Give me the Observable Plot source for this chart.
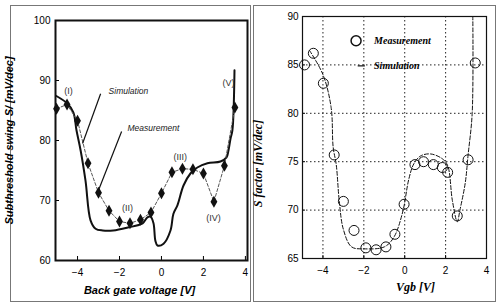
<!DOCTYPE html>
<html><head><meta charset="utf-8">
<script src="https://cdn.jsdelivr.net/npm/d3@7"></script>
<script src="https://cdn.jsdelivr.net/npm/@observablehq/plot@0.6"></script>
<style>
body{margin:0;background:#fff;width:496px;height:303px;overflow:hidden;position:relative;font-family:"Liberation Sans",sans-serif}
#left{position:absolute;left:0;top:0}
#right{position:absolute;left:250px;top:0}
.box{position:absolute;border:1px solid #777}
</style></head><body>
<div class="box" style="left:10px;top:5px;width:239px;height:295px"></div>
<div class="box" style="left:253px;top:5px;width:241px;height:295px"></div>
<div id="left"></div><div id="right"></div>
<script>
// ---- Left panel: Subthreshold swing vs back gate voltage ----
const leftMeasX = [-5, -4.5, -4, -3.5, -3, -2.5, -2, -1.5, -1, -0.5, 0, 0.5, 1, 1.5, 2, 2.5, 3, 3.5];
const leftMeasY = [85.3, 86.0, 83.3, 76.2, 71.3, 68.3, 66.5, 66.2, 66.8, 68.0, 71.2, 74.7, 75.3, 75.2, 74.5, 69.8, 75.8, 85.5];
const leftSimX = [-5.05, -4.5, -4.2, -4.05, -3.85, -3.62, -3.38, -3.14, -2.8, -2.3, -1.6, -0.9, -0.67, -0.52, -0.38, -0.29, -0.19, 0.1, 0.43, 0.57, 0.76, 1.05, 1.38, 1.71, 2.19, 2.81, 3.1, 3.19, 3.29, 3.38, 3.48];
const leftSimY = [87.5, 86.2, 84.7, 81.7, 78.3, 73.3, 66.7, 65.3, 65.0, 65.0, 65.5, 66.2, 67.2, 67.3, 66.2, 63.3, 62.5, 62.8, 65.0, 67.8, 69.2, 72.5, 74.5, 75.5, 76.2, 76.5, 77.2, 78.3, 80.3, 81.7, 91.7];
const leftXTicks = [-4, -2, 0, 2, 4];
const leftYTicks = [60, 70, 80, 90, 100];
const leftRegionLabels = ["(I)", "(II)", "(III)", "(IV)", "(V)"];
const leftRegionX = [-4.43, -1.62, 0.9, 2.48, 3.19];
const leftRegionY = [88.2, 68.8, 77.2, 67.0, 89.5];
const leftCallouts = ["Simulation", "Measurement"];
const leftCalloutX = [-2.52, -1.62];
const leftCalloutY = [88.2, 82.0];
const leftLeaderX1 = [-2.9, -1.9];
const leftLeaderY1 = [87.8, 81.5];
const leftLeaderX2 = [-3.76, -3.0];
const leftLeaderY2 = [79.5, 71.7];

// ---- Right panel: S factor vs Vgb ----
const rightMeasX = [-4.9, -4.47, -3.98, -3.45, -3.0, -2.48, -1.9, -1.4, -0.92, -0.48, -0.03, 0.5, 0.92, 1.4, 1.84, 2.1, 2.57, 3.1, 3.45];
const rightMeasY = [85.0, 86.2, 83.1, 75.7, 70.9, 67.9, 66.1, 65.9, 66.2, 67.5, 70.6, 74.7, 75.0, 74.7, 74.4, 73.9, 69.4, 75.2, 85.2];
const rightSimX = [-4.66, -4.0, -3.6, -3.5, -3.35, -3.2, -3.0, -2.6, -2.0, -1.0, -0.53, -0.1, 0.2, 0.45, 0.78, 1.27, 1.84, 2.1, 2.33, 2.57, 2.7, 2.96, 3.1, 3.3, 3.33];
const rightSimY = [86.5, 84.0, 80.6, 76.5, 74.7, 70.9, 68.0, 66.2, 66.0, 66.2, 67.2, 69.8, 73.2, 74.8, 75.6, 75.8, 75.3, 74.6, 71.0, 68.8, 70.0, 72.8, 75.7, 80.0, 90.0];
const rightXTicks = [-4, -2, 0, 2, 4];
const rightYTicks = [65, 70, 75, 80, 85, 90];
const rightGridX = [-4, -2, 0, 2];
const rightGridY = [70, 75, 80, 85];
const legendLabels = ["Measurement", "Simulation"];

const leftMeas = leftMeasX.map((x, i) => ({x, y: leftMeasY[i]}));
const leftSim = leftSimX.map((x, i) => ({x, y: leftSimY[i]}));
const leftRegions = leftRegionLabels.map((t, i) => ({t, x: leftRegionX[i], y: leftRegionY[i]}));
const leftCall = leftCallouts.map((t, i) => ({t, x: leftCalloutX[i], y: leftCalloutY[i],
  x1: leftLeaderX1[i], y1: leftLeaderY1[i], x2: leftLeaderX2[i], y2: leftLeaderY2[i]}));

const tickFont = {fontFamily: "Liberation Sans, sans-serif", fontSize: 10};
const labelFont = {fontFamily: "Liberation Sans, sans-serif", fontSize: 11, fontWeight: "bold", fontStyle: "italic"};

const left = Plot.plot({
  width: 250, height: 303,
  marginLeft: 55, marginRight: 3, marginTop: 20, marginBottom: 43,
  x: {domain: [-5.05, 4.1]},
  y: {domain: [60, 100]},
  marks: [
    Plot.axisX({ticks: leftXTicks, tickSize: -4, tickPadding: 12, label: null, ...tickFont}),
    Plot.axisY({ticks: leftYTicks, tickSize: -4, tickPadding: 9, label: null, ...tickFont}),
    Plot.line(leftSim, {x: "x", y: "y", stroke: "#111", strokeWidth: 2, curve: "catmull-rom", clip: true}),
    Plot.line(leftMeas, {x: "x", y: "y", stroke: "#555", strokeWidth: 1, strokeDasharray: "3,2"}),
    Plot.dot(leftMeas, {x: "x", y: "y", symbol: "diamond", r: 3.6, fill: "#111", stroke: "none"}),
    Plot.link(leftCall, {x1: "x1", y1: "y1", x2: "x2", y2: "y2", stroke: "#111", strokeWidth: 1.2}),
    Plot.text(leftCall, {x: "x", y: "y", text: "t", textAnchor: "start", fontSize: 8.5, fontStyle: "italic", fontFamily: "Liberation Sans, sans-serif", fill: "#222"}),
    Plot.text(leftRegions, {x: "x", y: "y", text: "t", fontSize: 9, fontFamily: "Liberation Sans, sans-serif", fill: "#333"}),
    Plot.frame({stroke: "#111", strokeWidth: 2}),
    Plot.text(["Subthreshold swing S/ [mV/dec]"], {frameAnchor: "left", textAnchor: "middle", rotate: -90, dx: -46, ...labelFont, letterSpacing: 0.6}),
    Plot.text(["Back gate voltage [V]"], {frameAnchor: "bottom", textAnchor: "middle", dx: -12, dy: 33, ...labelFont})
  ]
});
document.getElementById("left").appendChild(left);

const rightMeas = rightMeasX.map((x, i) => ({x, y: rightMeasY[i]}));
const rightSim = rightSimX.map((x, i) => ({x, y: rightSimY[i]}));
const serifLabel = {fontFamily: "Liberation Serif, serif", fontSize: 11, fontWeight: "bold", fontStyle: "italic"};

const right = Plot.plot({
  width: 246, height: 303,
  marginLeft: 52, marginRight: 10, marginTop: 16, marginBottom: 45,
  x: {domain: [-5, 4]},
  y: {domain: [65, 90]},
  marks: [
    Plot.ruleX(rightGridX, {stroke: "#222", strokeWidth: 1, strokeDasharray: "1.5,2.5"}),
    Plot.ruleY(rightGridY, {stroke: "#222", strokeWidth: 1, strokeDasharray: "1.5,2.5"}),
    Plot.axisX({ticks: rightXTicks, tickSize: -3, tickPadding: 11, label: null, ...tickFont}),
    Plot.axisY({ticks: rightYTicks, tickSize: -3, tickPadding: 7, label: null, ...tickFont}),
    Plot.line(rightSim, {x: "x", y: "y", stroke: "#111", strokeWidth: 1, strokeDasharray: "4,2", curve: "catmull-rom", clip: true}),
    Plot.dot(rightMeas, {x: "x", y: "y", r: 5, stroke: "#111", strokeWidth: 1, fill: "none"}),
    Plot.dot([{x: -2.38, y: 87.5}], {x: "x", y: "y", r: 5, stroke: "#111", fill: "white"}),
    Plot.link([{x1: -2.3, x2: -1.95, y: 84.9}], {x1: "x1", x2: "x2", y1: "y", y2: "y", stroke: "#111", strokeWidth: 1.2}),
    Plot.text([{t: legendLabels[0], x: -1.5, y: 87.5}, {t: legendLabels[1], x: -1.5, y: 84.9}], {x: "x", y: "y", text: "t", textAnchor: "start", ...serifLabel, fontSize: 10}),
    Plot.frame({stroke: "#111", strokeWidth: 1.2}),
    Plot.text(["S factor [mV/dec]"], {frameAnchor: "left", textAnchor: "middle", rotate: -90, dx: -44, dy: 26, ...serifLabel, fontSize: 12}),
    Plot.text(["Vgb [V]"], {frameAnchor: "bottom", textAnchor: "middle", dx: 21, dy: 32, ...serifLabel, fontSize: 12})
  ]
});
document.getElementById("right").appendChild(right);
</script>
</body></html>
